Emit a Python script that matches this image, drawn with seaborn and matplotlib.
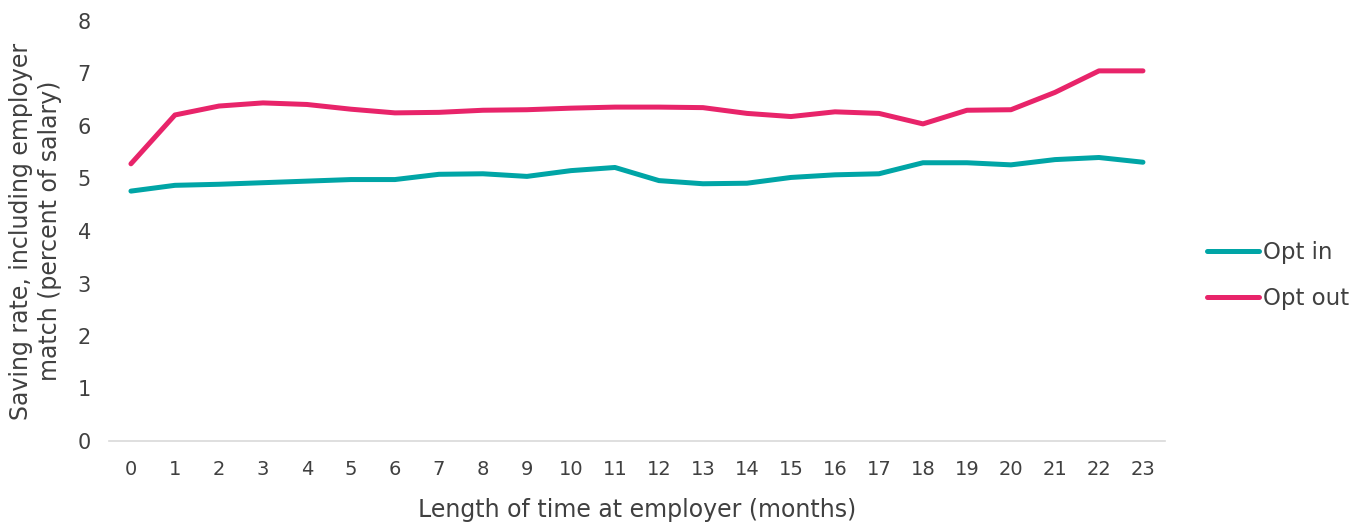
import matplotlib
matplotlib.use("Agg")
import matplotlib.pyplot as plt
import seaborn as sns
import pandas as pd

months = list(range(24))
opt_in = [4.76, 4.87, 4.89, 4.92, 4.95, 4.98, 4.98, 5.08, 5.09, 5.04, 5.15, 5.21,
          4.96, 4.90, 4.91, 5.02, 5.07, 5.09, 5.30, 5.30, 5.26, 5.36, 5.40, 5.31]
opt_out = [5.28, 6.21, 6.38, 6.44, 6.41, 6.32, 6.25, 6.26, 6.30, 6.31, 6.34, 6.36,
           6.36, 6.35, 6.24, 6.18, 6.27, 6.24, 6.04, 6.30, 6.31, 6.64, 7.05, 7.05]
series_names = ["Opt in", "Opt out"]
colors = ["#00A5A6", "#E8246A"]

df = pd.DataFrame({
    "month": months * 2,
    "rate": opt_in + opt_out,
    "group": [series_names[0]] * len(months) + [series_names[1]] * len(months),
})

sns.set_theme(style="white")
plt.rcParams["font.family"] = ["DejaVu Sans"]
text_color = "#404040"

fig = plt.figure(figsize=(13.67, 5.25), dpi=100)
ax = fig.add_axes([0.0797, 0.16, 0.7725, 0.80])

sns.lineplot(data=df, x="month", y="rate", hue="group", palette=colors,
             linewidth=3.6, ax=ax, legend=False, solid_capstyle="round")

ax.set_xlim(-0.5, 23.5)
ax.set_ylim(0, 8)
ax.set_xticks(months)
ax.set_xticklabels([str(m) for m in months], fontsize=14, color=text_color)
ax.set_yticks(range(9))
ax.set_yticklabels([str(v) for v in range(9)], fontsize=15, color=text_color)
ax.tick_params(axis="both", length=0)
ax.tick_params(axis="x", pad=14)
ax.tick_params(axis="y", pad=13)

for side in ["top", "right", "left"]:
    ax.spines[side].set_visible(False)
ax.spines["bottom"].set_color("#D9D9D9")
ax.spines["bottom"].set_linewidth(1.2)

ax.set_xlabel("Length of time at employer (months)", fontsize=17,
              color=text_color, labelpad=13)
ax.set_ylabel("Saving rate, including employer\nmatch (percent of salary)",
              fontsize=17, color=text_color, labelpad=11, linespacing=1.25)

handles = [plt.Line2D([], [], color=c, linewidth=3.6, solid_capstyle="round")
           for c in colors]
leg = ax.legend(handles, series_names, loc="center left",
                bbox_to_anchor=(1.02, 0.395), frameon=False, fontsize=16.5,
                handlelength=2.3, handletextpad=0.15, labelspacing=1.0)
for t in leg.get_texts():
    t.set_color(text_color)

fig.savefig("out.png", dpi=100, facecolor="white")
